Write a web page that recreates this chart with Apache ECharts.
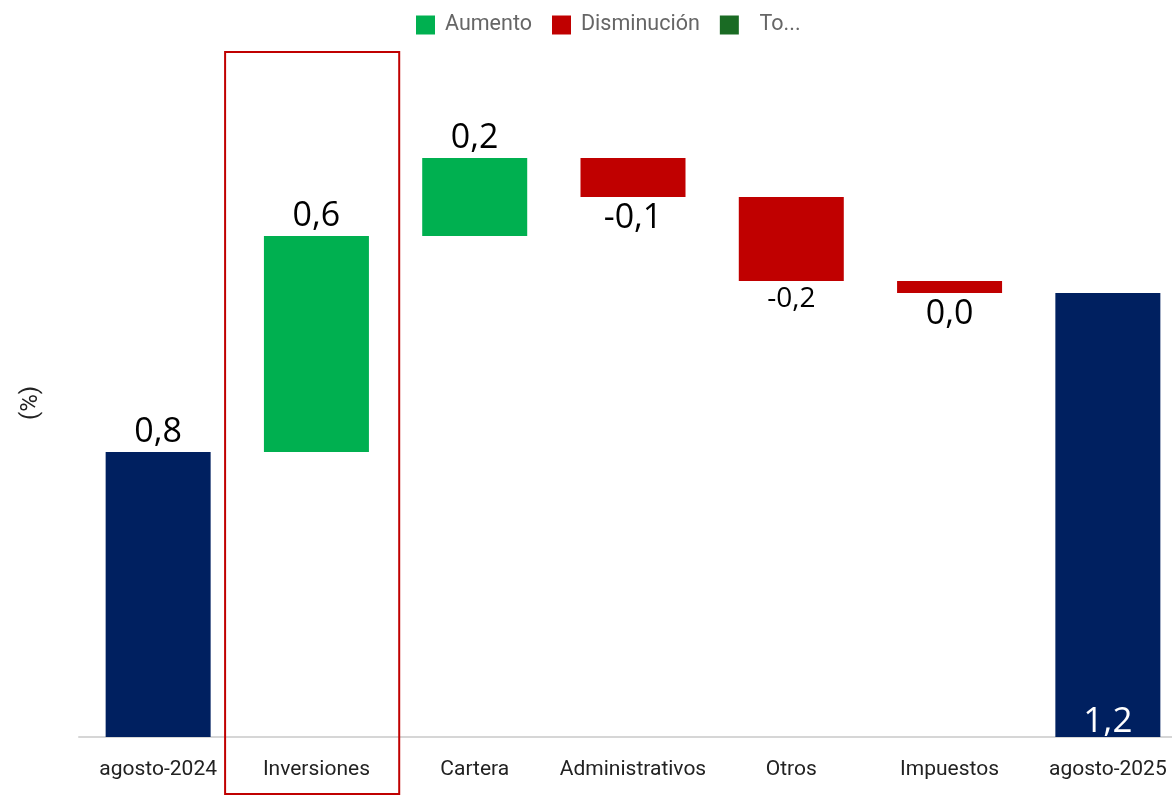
<!DOCTYPE html>
<html>
<head>
<meta charset="utf-8">
<script src="https://cdn.jsdelivr.net/npm/echarts@6/dist/echarts.min.js"></script>
<style>
  html, body { margin: 0; padding: 0; background: #fff; }
  #chart { width: 1172px; height: 795px; }
</style>
</head>
<body>
<div id="chart"></div>
<script>
// datos del grafico (%)
var categories = ['agosto-2024', 'Inversiones', 'Cartera', 'Administrativos', 'Otros', 'Impuestos', 'agosto-2025'];
var startValue = 0.8;
var changes = [0.606, 0.219, -0.109, -0.236, -0.034];
var endValue = 1.246;
var legendNames = ['Aumento', 'Disminución', 'Total'];

function fmt(v) {
  if (Math.abs(v) < 0.05) return '0,0';
  return v.toFixed(1).replace('.', ',');
}

// armar series apiladas (base transparente)
var base = ['-'], up = ['-'], down = ['-'], total = [];
var running = startValue;
changes.forEach(function (d) {
  if (d >= 0) {
    base.push(running); up.push(d); down.push('-');
  } else {
    base.push(running + d); up.push('-'); down.push(-d);
  }
  running += d;
});
base.push('-'); up.push('-'); down.push('-');

var labelFont = 'Open Sans';
categories.forEach(function (c, i) {
  if (i === 0) {
    total.push({ value: startValue, label: { show: true, position: 'top', distance: 3, color: '#000', fontSize: 34, fontFamily: labelFont } });
  } else if (i === categories.length - 1) {
    total.push({ value: endValue, label: { show: true, position: 'insideBottom', distance: -3, color: '#fff', fontSize: 35, fontFamily: labelFont } });
  } else {
    total.push('-');
  }
});

var downData = down.map(function (v, i) {
  if (v === '-') return v;
  return { value: v, label: { fontSize: categories[i] === 'Otros' ? 28 : 34 } };
});

var myChart = echarts.init(document.getElementById('chart'));
var option = {
  animation: false,
  legend: {
    data: legendNames,
    left: 411,
    top: 9,
    itemWidth: 19,
    itemHeight: 19,
    itemGap: 20,
    icon: 'rect',
    formatter: function (name) {
      return name === 'Total' ? '  To...' : name;
    },
    textStyle: { color: '#666', fontSize: 21.5, fontFamily: 'Roboto', padding: [0, 0, 0, 5] }
  },
  grid: { left: 79, width: 1108, top: 69, bottom: 58, containLabel: false, outerBoundsMode: 'none' },
  xAxis: {
    type: 'category',
    data: categories,
    axisTick: { show: false },
    axisLine: { lineStyle: { color: '#d6d6d6', width: 2 } },
    axisLabel: { color: '#222', fontSize: 21, fontFamily: 'Roboto', margin: 22, interval: 0 }
  },
  yAxis: {
    type: 'value',
    min: 0,
    max: 1.875,
    name: '(%)',
    nameLocation: 'middle',
    nameGap: 36,
    nameTextStyle: { color: '#222', fontSize: 24, fontFamily: 'Roboto' },
    axisLine: { show: false },
    axisTick: { show: false },
    axisLabel: { show: false },
    splitLine: { show: false }
  },
  series: [
    {
      name: 'base',
      type: 'bar',
      stack: 'w',
      barWidth: 105,
      itemStyle: { color: 'transparent' },
      silent: true,
      data: base
    },
    {
      name: 'Aumento',
      type: 'bar',
      stack: 'w',
      barWidth: 105,
      itemStyle: { color: '#00b050' },
      label: {
        show: true, position: 'top', distance: 3, color: '#000', fontSize: 34, fontFamily: labelFont,
        formatter: function (p) { return fmt(p.value); }
      },
      data: up
    },
    {
      name: 'Disminución',
      type: 'bar',
      stack: 'w',
      barWidth: 105,
      itemStyle: { color: '#c00000' },
      label: {
        show: true, position: 'bottom', distance: 4, color: '#000', fontSize: 34, fontFamily: labelFont,
        formatter: function (p) { return fmt(changes[p.dataIndex - 1]); }
      },
      data: downData
    },
    {
      name: 'Total',
      type: 'bar',
      stack: 'w',
      barWidth: 105,
      itemStyle: { color: '#1a6b24' },
      label: { formatter: function (p) { return fmt(p.value); } },
      data: total.map(function (d) {
        if (d === '-') return d;
        d.itemStyle = { color: '#002060' };
        return d;
      })
    }
  ]
};
myChart.setOption(option);

// recuadro rojo resaltando Inversiones
var cx = myChart.convertToPixel({ xAxisIndex: 0 }, 'Inversiones');
var band = myChart.convertToPixel({ xAxisIndex: 0 }, 'Cartera') - cx;
myChart.setOption({
  graphic: [{
    type: 'rect',
    shape: { x: cx - band * 0.577, y: 52, width: band * 1.1, height: 742 },
    style: { fill: 'none', stroke: '#c00000', lineWidth: 2 },
    z: 100
  }]
});
</script>
</body>
</html>
